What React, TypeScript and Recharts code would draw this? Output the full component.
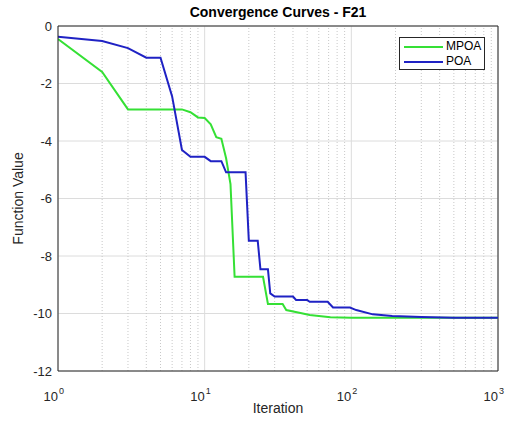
import React from 'react';
import {
  LineChart,
  Line,
  XAxis,
  YAxis,
  CartesianGrid,
  ReferenceLine,
  Label,
} from 'recharts';

// MPOA convergence (iteration, best function value)
const mpoaIterations = [1, 2, 3, 7, 8, 9, 10, 11, 12, 13, 14, 15, 16, 25, 27, 34, 36, 45, 52, 72, 100, 1000];
const mpoaValues = [-0.45, -1.6, -2.9, -2.9, -3.0, -3.18, -3.2, -3.42, -3.87, -3.92, -4.6, -5.5, -8.72, -8.72, -9.67, -9.67, -9.88, -9.98, -10.05, -10.13, -10.15, -10.15];

// POA convergence
const poaIterations = [1, 2, 3, 4, 5, 6, 7, 8, 10, 11, 13, 14, 19, 20, 23, 24, 27, 28, 30, 40, 42, 50, 52, 69, 75, 98, 108, 140, 190, 300, 500, 1000];
const poaValues = [-0.37, -0.52, -0.77, -1.1, -1.1, -2.45, -4.31, -4.55, -4.55, -4.7, -4.7, -5.09, -5.09, -7.47, -7.47, -8.46, -8.46, -9.3, -9.41, -9.41, -9.53, -9.53, -9.59, -9.59, -9.79, -9.79, -9.88, -10.03, -10.09, -10.12, -10.15, -10.15];

const iterationTicks = [1, 10, 100, 1000];
const minorIterationTicks = [2, 3, 4, 5, 6, 7, 8, 9, 20, 30, 40, 50, 60, 70, 80, 90, 200, 300, 400, 500, 600, 700, 800, 900];
const valueTicks = [0, -2, -4, -6, -8, -10, -12];

const seriesNames = ['MPOA', 'POA'];
const seriesColors = ['#35e035', '#1f22c4'];

const mpoaData = mpoaIterations.map((it, i) => ({ iteration: it, value: mpoaValues[i] }));
const poaData = poaIterations.map((it, i) => ({ iteration: it, value: poaValues[i] }));

const FONT = '"Liberation Sans", Arial, Helvetica, sans-serif';
const AXIS = '#262626';

function PowerTick({ x, y, payload }: any) {
  const exp = Math.round(Math.log10(payload.value));
  return (
    <g>
      <text x={x} y={y + 22} textAnchor="end" fontSize={13} fill={AXIS} fontFamily={FONT}>
        10
      </text>
      <text x={x + 1} y={y + 15} textAnchor="start" fontSize={9} fill={AXIS} fontFamily={FONT}>
        {exp}
      </text>
    </g>
  );
}

function LegendBox() {
  return (
    <div
      style={{
        position: 'absolute',
        top: 37,
        left: 399,
        width: 86,
        height: 33,
        boxSizing: 'border-box',
        border: '1px solid #262626',
        background: '#fff',
        padding: '1px 0 0 4px',
        fontFamily: FONT,
        fontSize: 12,
        color: '#000',
        lineHeight: '15px',
      }}
    >
      {seriesNames.map((name, i) => (
        <div key={name} style={{ display: 'flex', alignItems: 'center' }}>
          <span style={{ display: 'inline-block', width: 39, height: 2, background: seriesColors[i], marginRight: 3 }} />
          <span>{name}</span>
        </div>
      ))}
    </div>
  );
}

export default function App() {
  return (
    <div style={{ position: 'absolute', left: 0, top: 0, width: 517, height: 421, background: '#fff', fontFamily: FONT }}>
      <div
        style={{
          position: 'absolute',
          top: 4,
          left: 58,
          width: 440,
          textAlign: 'center',
          fontWeight: 'bold',
          fontSize: 14,
          color: '#000',
        }}
      >
        Convergence Curves - F21
      </div>
      <LineChart width={517} height={421} margin={{ top: 26, right: 19, bottom: 0, left: 0 }}>
        <CartesianGrid stroke="#dcdcdc" vertical horizontal />
        {minorIterationTicks.map((v) => (
          <ReferenceLine key={v} x={v} stroke="#c8c8c8" strokeDasharray="1 2" />
        ))}
        <XAxis
          dataKey="iteration"
          type="number"
          scale="log"
          domain={[1, 1000]}
          ticks={iterationTicks}
          allowDataOverflow
          height={50}
          stroke={AXIS}
          tickLine={false}
          tick={<PowerTick />}
        >
          <Label
            value="Iteration"
            position="insideBottom"
            offset={8}
            style={{ fontSize: 14, fill: AXIS, fontFamily: FONT }}
          />
        </XAxis>
        <YAxis
          type="number"
          domain={[-12, 0]}
          ticks={valueTicks}
          width={58}
          stroke={AXIS}
          tickLine={false}
          tickSize={0}
          tickMargin={6}
          tick={{ fontSize: 13, fill: AXIS, fontFamily: FONT }}
        >
          <Label
            content={({ viewBox }: any) => (
              <text
                x={viewBox.x + 18}
                y={viewBox.y + viewBox.height / 2}
                transform={`rotate(-90 ${viewBox.x + 18} ${viewBox.y + viewBox.height / 2})`}
                textAnchor="middle"
                dominantBaseline="central"
                fontSize={14}
                fill={AXIS}
                fontFamily={FONT}
              >
                Function Value
              </text>
            )}
          />
        </YAxis>
        <ReferenceLine y={0} stroke={AXIS} />
        <ReferenceLine x={1000} stroke={AXIS} />
        <Line
          data={mpoaData}
          dataKey="value"
          name={seriesNames[0]}
          stroke={seriesColors[0]}
          strokeWidth={2}
          dot={false}
          type="linear"
          isAnimationActive={false}
        />
        <Line
          data={poaData}
          dataKey="value"
          name={seriesNames[1]}
          stroke={seriesColors[1]}
          strokeWidth={2}
          dot={false}
          type="linear"
          isAnimationActive={false}
        />
      </LineChart>
      <LegendBox />
    </div>
  );
}
